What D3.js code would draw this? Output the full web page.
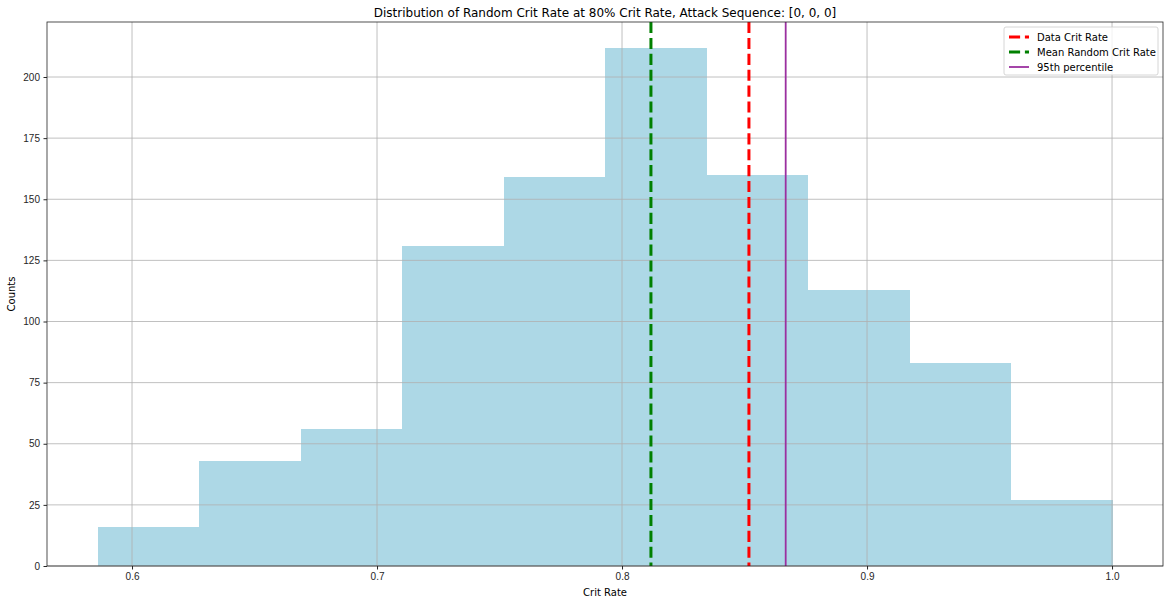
<!DOCTYPE html>
<html>
<head>
<meta charset="utf-8">
<script src="https://cdn.jsdelivr.net/npm/d3@7"></script>
<style>
  body { margin: 0; background: #fff; }
  svg { font-family: 'DejaVu Sans', sans-serif; }
  .tick text { font-size: 10px; fill: #262626; }
  .tick line { stroke: #262626; }
</style>
</head>
<body>
<svg id="chart" width="1170" height="604"></svg>
<script>
// histogram bins (edges) and counts
const binStart = 0.5861
const binEnd = 1.0
const counts = [16, 43, 56, 131, 159, 212, 160, 113, 83, 27]
const xTicks = [0.6, 0.7, 0.8, 0.9, 1.0]
const yTicks = [0, 25, 50, 75, 100, 125, 150, 175, 200]

// reference lines
const refLines = [
  { name: 'Data Crit Rate', value: 0.8518, color: 'red', dash: '11.1,4.8', width: 3 },
  { name: 'Mean Random Crit Rate', value: 0.8118, color: 'green', dash: '11.1,4.8', width: 3 },
  { name: '95th percentile', value: 0.8668, color: '#9b30a0', dash: null, width: 1.8 }
]

const margin = { top: 22, right: 7, bottom: 38, left: 47 }
const width = 1170 - margin.left - margin.right
const height = 604 - margin.top - margin.bottom

const svg = d3.select('#chart')
const g = svg.append('g')
  .attr('transform', `translate(${margin.left},${margin.top})`)

const xScale = d3.scaleLinear().domain([0.5653, 1.0208]).range([0, width])
const yScale = d3.scaleLinear().domain([0, 222.5]).range([height, 0])

const binW = (binEnd - binStart) / counts.length

// bars
g.selectAll('rect.bar')
  .data(counts)
  .enter()
  .append('rect')
  .attr('class', 'bar')
  .attr('x', (d, i) => xScale(binStart + i * binW))
  .attr('width', (d, i) => xScale(binStart + (i + 1) * binW) - xScale(binStart + i * binW) + 0.5)
  .attr('y', d => yScale(d))
  .attr('height', d => height - yScale(d))
  .attr('fill', '#add8e6')
  .attr('shape-rendering', 'crispEdges')

// grid (drawn above bars like the original)
g.append('g')
  .selectAll('line')
  .data(xTicks)
  .enter()
  .append('line')
  .attr('x1', d => xScale(d)).attr('x2', d => xScale(d))
  .attr('y1', 0).attr('y2', height)
  .attr('stroke', '#b0b0b0').attr('stroke-width', 0.8)
g.append('g')
  .selectAll('line')
  .data(yTicks)
  .enter()
  .append('line')
  .attr('x1', 0).attr('x2', width)
  .attr('y1', d => yScale(d)).attr('y2', d => yScale(d))
  .attr('stroke', '#b0b0b0').attr('stroke-width', 0.8)

// vertical lines
g.selectAll('line.ref')
  .data(refLines)
  .enter()
  .append('line')
  .attr('class', 'ref')
  .attr('x1', d => xScale(d.value)).attr('x2', d => xScale(d.value))
  .attr('y1', 0).attr('y2', height)
  .attr('stroke', d => d.color)
  .attr('stroke-width', d => d.width)
  .attr('stroke-dasharray', d => d.dash)

// axes
const xAxis = d3.axisBottom(xScale).tickValues(xTicks).tickFormat(d3.format('.1f')).tickSize(3.5).tickPadding(3.5)
const yAxis = d3.axisLeft(yScale).tickValues(yTicks).tickSize(3.5).tickPadding(3.5)
g.append('g').attr('transform', `translate(0,${height})`).call(xAxis)
  .call(a => a.select('.domain').remove())
g.append('g').call(yAxis)
  .call(a => a.select('.domain').remove())

// frame
g.append('rect')
  .attr('width', width).attr('height', height)
  .attr('fill', 'none').attr('stroke', '#262626').attr('stroke-width', 0.8)

// labels
svg.append('text')
  .attr('x', margin.left + width / 2).attr('y', 17)
  .attr('text-anchor', 'middle').attr('font-size', 12).attr('fill', '#000')
  .text('Distribution of Random Crit Rate at 80% Crit Rate, Attack Sequence: [0, 0, 0]')
svg.append('text')
  .attr('x', margin.left + width / 2).attr('y', 596)
  .attr('text-anchor', 'middle').attr('font-size', 10).attr('fill', '#000')
  .text('Crit Rate')
svg.append('text')
  .attr('transform', `translate(15,${margin.top + height / 2}) rotate(-90)`)
  .attr('text-anchor', 'middle').attr('font-size', 10).attr('fill', '#000')
  .text('Counts')

// legend
const legend = g.append('g').attr('transform', `translate(${width - 159},5)`)
legend.append('rect')
  .attr('width', 154).attr('height', 48).attr('rx', 2)
  .attr('fill', '#fff').attr('fill-opacity', 0.8)
  .attr('stroke', '#cccccc').attr('stroke-width', 0.8)
refLines.forEach((d, i) => {
  const y = 10 + i * 15
  legend.append('line')
    .attr('x1', 5).attr('x2', 25).attr('y1', y).attr('y2', y)
    .attr('stroke', d.color).attr('stroke-width', d.width)
    .attr('stroke-dasharray', d.dash)
  legend.append('text')
    .attr('x', 33).attr('y', y + 3.5)
    .attr('font-size', 10).attr('fill', '#000')
    .text(d.name)
})
</script>
</body>
</html>
